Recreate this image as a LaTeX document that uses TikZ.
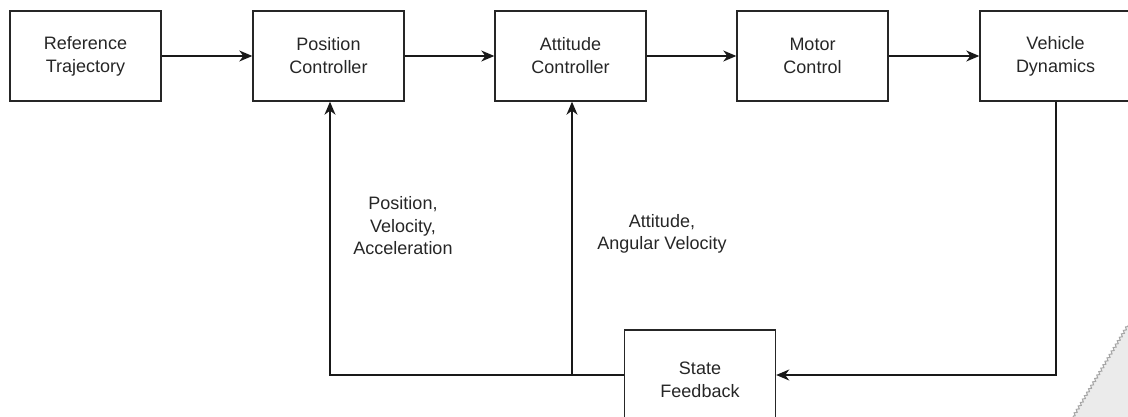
\documentclass[tikz,border=0pt]{standalone}
\usepackage{fontspec}
\setmainfont{Liberation Sans}
\usetikzlibrary{arrows.meta,decorations.pathmorphing}
\begin{document}
\begin{tikzpicture}[x=1pt,y=-1pt,
  blk/.style={draw=black!85,line width=1.4pt,minimum width=151pt,minimum height=90pt,align=center,font=\fontsize{18}{23}\selectfont,text=black!85,inner sep=0pt},
  lbl/.style={align=center,font=\fontsize{18}{22.5}\selectfont,text=black!85,inner sep=0pt},
  conn/.style={line width=1.4pt,draw=black!90,-{Stealth[length=13pt,width=11pt,inset=4pt]}}]
\useasboundingbox (0,0) rectangle (1128,417);
\node[blk] (ref) at (85.5,56) {Reference\\Trajectory};
\node[blk] (pos) at (328.5,56) {Position\\Controller};
\node[blk] (att) at (570.5,56) {Attitude\\Controller};
\node[blk] (mot) at (812.5,56) {Motor\\Control};
\node[blk] (veh) at (1055.5,56) {Vehicle\\Dynamics};
\node[blk,minimum height=100pt] (sf) at (700,380) {State\\Feedback};
\coordinate (c1) at (1056,375);
\coordinate (j1) at (572,375);
\coordinate (j2) at (330,375);
\draw[conn] (ref) -- (pos);
\draw[conn] (pos) -- (att);
\draw[conn] (att) -- (mot);
\draw[conn] (mot) -- (veh);
\draw[conn] (veh.south -| c1) -- (c1) -- (sf.east |- c1);
\draw[conn] (sf.west |- j1) -- (j2) -- (pos.south -| j2);
\draw[conn] (j1) -- (att.south -| j1);
\node[lbl] (l1) at (403,226) {Position,\\Velocity,\\Acceleration};
\node[lbl] (l2) at (662,234) {Attitude,\\Angular Velocity};
\fill[black!8] (1128,325) -- (1073,417) -- (1128,417) -- cycle;
\draw[black!35,line width=1pt,decorate,decoration={zigzag,amplitude=1.2pt,segment length=4pt}] (1128,325) -- (1073,417);
\end{tikzpicture}
\end{document}
